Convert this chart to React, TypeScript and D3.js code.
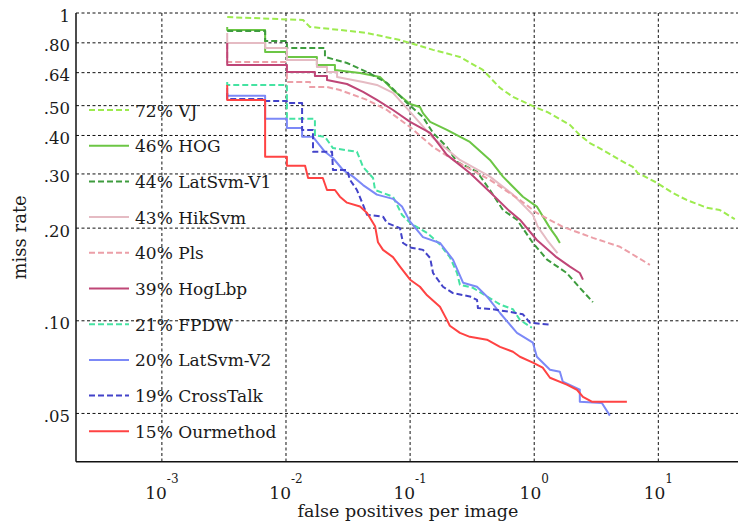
import React from "react";
import * as d3 from "d3";

const W = 738;
const H = 523;

// axis ticks
const yTicks = [1, 0.8, 0.64, 0.5, 0.4, 0.3, 0.2, 0.1, 0.05];
const yTickLabels = ["1", ".80", ".64", ".50", ".40", ".30", ".20", ".10", ".05"];
const xTickExps = [-3, -2, -1, 0, 1];

// legend
const legendLabels = [
  "72% VJ",
  "46% HOG",
  "44% LatSvm-V1",
  "43% HikSvm",
  "40% Pls",
  "39% HogLbp",
  "21% FPDW",
  "20% LatSvm-V2",
  "19% CrossTalk",
  "15% Ourmethod",
];

// series: [false positives per image, miss rate]
const vj: [number, number][] = [
  [0.00336, 0.97], [0.01374, 0.949], [0.0156, 0.901], [0.0272, 0.881], [0.045, 0.861],
  [0.0829, 0.817], [0.1137, 0.787], [0.153, 0.759], [0.252, 0.72], [0.386, 0.653],
  [0.53, 0.571], [0.674, 0.534], [1.01, 0.495], [1.27, 0.477], [1.94, 0.433],
  [2.33, 0.401], [2.81, 0.378], [3.57, 0.359], [4.9, 0.333], [6.23, 0.316],
  [6.84, 0.302], [9.72, 0.281], [13.1, 0.26], [16.9, 0.247], [24.6, 0.233],
  [31.3, 0.229], [41.3, 0.214],
];
const hog: [number, number][] = [
  [0.00336, 0.9], [0.00336, 0.881], [0.00679, 0.881], [0.00679, 0.747], [0.01017, 0.747],
  [0.01017, 0.72], [0.01774, 0.72], [0.01774, 0.678], [0.0248, 0.678], [0.0248, 0.653],
  [0.0395, 0.638], [0.0572, 0.62], [0.0728, 0.562], [0.1, 0.506], [0.12, 0.495],
  [0.127, 0.473], [0.145, 0.443], [0.198, 0.417], [0.303, 0.381], [0.44, 0.333],
  [0.56, 0.294], [0.811, 0.253], [1.05, 0.235], [1.34, 0.2], [1.51, 0.187], [1.61, 0.179],
];
const latSvmV1: [number, number][] = [
  [0.00336, 0.874], [0.00679, 0.874], [0.00679, 0.811], [0.01017, 0.811], [0.01017, 0.77],
  [0.0206, 0.77], [0.0206, 0.72], [0.031, 0.688], [0.045, 0.643], [0.0651, 0.593],
  [0.0945, 0.51], [0.127, 0.459], [0.153, 0.408], [0.198, 0.367], [0.239, 0.328],
  [0.346, 0.305], [0.44, 0.266], [0.56, 0.229], [0.726, 0.213], [0.976, 0.179],
  [1.27, 0.158], [1.83, 0.143], [2.33, 0.128], [2.97, 0.115],
];
const hikSvm: [number, number][] = [
  [0.00336, 0.861], [0.00336, 0.799], [0.00679, 0.799], [0.00679, 0.77], [0.01017, 0.77],
  [0.01017, 0.704], [0.01774, 0.704], [0.01774, 0.668], [0.0214, 0.668], [0.0214, 0.643],
  [0.0258, 0.643], [0.0258, 0.62], [0.0418, 0.597], [0.054, 0.584], [0.0728, 0.55],
  [0.1, 0.477], [0.153, 0.393], [0.252, 0.333], [0.44, 0.294], [0.674, 0.257],
  [0.976, 0.221], [1.07, 0.202], [1.27, 0.183], [1.54, 0.166],
];
const pls: [number, number][] = [
  [0.00336, 0.799], [0.00336, 0.693], [0.01017, 0.693], [0.01017, 0.597], [0.0156, 0.597],
  [0.0156, 0.575], [0.0214, 0.575], [0.0272, 0.562], [0.045, 0.522], [0.0651, 0.484],
  [0.1, 0.426], [0.153, 0.367], [0.239, 0.328], [0.44, 0.287], [0.767, 0.247],
  [1.05, 0.224], [1.7, 0.202], [2.97, 0.186], [4.9, 0.174], [8.55, 0.152],
];
const hogLbp: [number, number][] = [
  [0.00336, 0.799], [0.00336, 0.678], [0.01017, 0.678], [0.01017, 0.643], [0.0171, 0.643],
  [0.0171, 0.624], [0.0214, 0.624], [0.0214, 0.606], [0.031, 0.588], [0.0418, 0.554],
  [0.054, 0.522], [0.0728, 0.484], [0.1, 0.443], [0.145, 0.408], [0.198, 0.346],
  [0.303, 0.302], [0.44, 0.262], [0.626, 0.228], [0.767, 0.213], [1.05, 0.183],
  [1.51, 0.161], [1.94, 0.15], [2.33, 0.143], [2.47, 0.136],
];
const fpdw: [number, number][] = [
  [0.00336, 0.597], [0.00336, 0.584], [0.01017, 0.584], [0.01017, 0.453], [0.0171, 0.453],
  [0.0171, 0.401], [0.0206, 0.396], [0.0239, 0.364], [0.0373, 0.354], [0.0418, 0.316],
  [0.0503, 0.291], [0.0522, 0.266], [0.0728, 0.253], [0.086, 0.221], [0.1, 0.208],
  [0.137, 0.193], [0.174, 0.177], [0.209, 0.161], [0.239, 0.143], [0.252, 0.131],
  [0.321, 0.128], [0.416, 0.12], [0.53, 0.113], [0.674, 0.109], [0.767, 0.1007], [0.958, 0.0949],
];
const latSvmV2: [number, number][] = [
  [0.00336, 0.571], [0.00336, 0.538], [0.00679, 0.538], [0.00679, 0.453], [0.01017, 0.453],
  [0.01017, 0.423], [0.01348, 0.423], [0.01348, 0.396], [0.0165, 0.396], [0.0206, 0.354],
  [0.0239, 0.338], [0.0288, 0.309], [0.0347, 0.294], [0.0418, 0.276], [0.054, 0.257],
  [0.0728, 0.249], [0.086, 0.235], [0.1, 0.21], [0.127, 0.187], [0.174, 0.179],
  [0.2215, 0.158], [0.267, 0.133], [0.346, 0.129], [0.416, 0.12], [0.53, 0.106],
  [0.726, 0.0914], [0.976, 0.0849], [1.05, 0.0764], [1.34, 0.0693], [1.61, 0.0683],
  [1.7, 0.0634], [2.33, 0.0597], [2.33, 0.0546], [3.51, 0.0541], [4.07, 0.0492],
];
const crossTalk: [number, number][] = [
  [0.00336, 0.55], [0.00336, 0.526], [0.00679, 0.526], [0.00679, 0.518], [0.01017, 0.518],
  [0.01017, 0.51], [0.01348, 0.51], [0.01348, 0.417], [0.0165, 0.417], [0.0165, 0.354],
  [0.0235, 0.354], [0.0239, 0.309], [0.031, 0.309], [0.0328, 0.287], [0.0373, 0.266],
  [0.0418, 0.238], [0.045, 0.221], [0.0605, 0.218], [0.0651, 0.208], [0.0829, 0.2],
  [0.0877, 0.179], [0.1, 0.173], [0.127, 0.17], [0.145, 0.16], [0.153, 0.143],
  [0.184, 0.129], [0.2215, 0.123], [0.303, 0.12], [0.346, 0.117], [0.352, 0.11],
  [0.465, 0.109], [0.626, 0.107], [0.811, 0.105], [0.923, 0.0986], [1.38, 0.097],
];
const ourMethod: [number, number][] = [
  [0.00336, 0.584], [0.00336, 0.522], [0.00679, 0.522], [0.00679, 0.341], [0.01017, 0.341],
  [0.01017, 0.319], [0.01425, 0.319], [0.01507, 0.291], [0.0198, 0.291], [0.0214, 0.266],
  [0.0248, 0.266], [0.0272, 0.253], [0.031, 0.242], [0.0395, 0.235], [0.045, 0.224],
  [0.0522, 0.203], [0.0551, 0.18], [0.0605, 0.17], [0.0728, 0.161], [0.0829, 0.15],
  [0.1, 0.136], [0.12, 0.129], [0.137, 0.121], [0.174, 0.111], [0.198, 0.1007],
  [0.209, 0.0964], [0.252, 0.0914], [0.303, 0.0887], [0.416, 0.0868], [0.53, 0.0823],
  [0.674, 0.0793], [0.767, 0.0764], [0.976, 0.0731], [1.17, 0.0704], [1.34, 0.0653],
  [1.83, 0.062], [2.21, 0.0597], [2.47, 0.0566], [2.91, 0.0546], [5.58, 0.0546],
];

const seriesData = [vj, hog, latSvmV1, hikSvm, pls, hogLbp, fpdw, latSvmV2, crossTalk, ourMethod];
const seriesColors = [
  "#9DEB4F", "#6CC645", "#3E9C3E", "#E5BBC3", "#EC9FA8",
  "#BF4677", "#45E3A2", "#7C89F7", "#4343C9", "#FF4343",
];
const seriesDashed = [true, false, true, false, true, false, true, false, true, false];

export default function App() {
  const left = 76;
  const right = 738;
  const top = 13;
  const bottom = 461.7;

  const x = d3.scaleLog().domain([Math.pow(10, -3.692), Math.pow(10, 1.642)]).range([left, right]);
  const y = d3.scaleLog().domain([0.03485, 1]).range([bottom, top]);

  const line = d3
    .line<[number, number]>()
    .x((d) => x(d[0]))
    .y((d) => y(d[1]));

  const font = "'DejaVu Serif', serif";
  const textColor = "#1a1a1a";
  const gridDash = "3,2.5";

  const legendX0 = 89;
  const legendX1 = 129;
  const legendTextX = 135;
  const legendY0 = 110;
  const legendStep = 35.7;

  return (
    <svg
      width={W}
      height={H}
      style={{ position: "absolute", left: 0, top: 0, background: "#fff" }}
      fontFamily={font}
    >
      <rect x={0} y={0} width={W} height={H} fill="#fff" />
      <defs>
        <clipPath id="plotClip">
          <rect x={left} y={top - 2} width={right - left} height={bottom - top + 2} />
        </clipPath>
      </defs>

      {/* horizontal grid */}
      {yTicks.map((t) => (
        <line
          key={"hg" + t}
          x1={left}
          x2={right}
          y1={y(t)}
          y2={y(t)}
          stroke="#111"
          strokeWidth={1}
          strokeDasharray={gridDash}
        />
      ))}
      {/* vertical grid */}
      {xTickExps.map((e) => (
        <line
          key={"vg" + e}
          x1={x(Math.pow(10, e))}
          x2={x(Math.pow(10, e))}
          y1={top}
          y2={bottom}
          stroke="#111"
          strokeWidth={1}
          strokeDasharray={gridDash}
        />
      ))}

      {/* axes */}
      <line x1={left} x2={left} y1={top} y2={bottom} stroke="#111" strokeWidth={1.5} />
      <line x1={left} x2={right} y1={bottom} y2={bottom} stroke="#111" strokeWidth={1.5} />

      {/* y tick labels */}
      {yTicks.map((t, i) => (
        <text
          key={"yl" + t}
          x={70}
          y={y(t) + 8.5}
          textAnchor="end"
          fontSize={16.5}
          fill={textColor}
        >
          {yTickLabels[i]}
        </text>
      ))}

      {/* x tick labels */}
      {xTickExps.map((e) => (
        <text
          key={"xl" + e}
          x={x(Math.pow(10, e))}
          y={498.5}
          textAnchor="middle"
          fontSize={17}
          fill={textColor}
        >
          <tspan>10</tspan>
          <tspan dy={-16} fontSize={12}>
            {String(e)}
          </tspan>
        </text>
      ))}

      {/* axis titles */}
      <text x={408} y={517} textAnchor="middle" fontSize={17.5} fill={textColor}>
        false positives per image
      </text>
      <text
        transform={`translate(26, ${(top + bottom) / 2}) rotate(-90)`}
        textAnchor="middle"
        fontSize={18}
        fill={textColor}
      >
        miss rate
      </text>

      {/* curves */}
      <g clipPath="url(#plotClip)">
        {seriesData.map((s, i) => (
          <path
            key={"s" + i}
            d={line(s) || ""}
            fill="none"
            stroke={seriesColors[i]}
            strokeWidth={2}
            strokeDasharray={seriesDashed[i] ? "6,3" : undefined}
            strokeLinejoin="round"
          />
        ))}
      </g>

      {/* legend */}
      {legendLabels.map((lab, i) => {
        const ly = legendY0 + i * legendStep;
        return (
          <g key={"lg" + i}>
            <line
              x1={legendX0}
              x2={legendX1}
              y1={ly}
              y2={ly}
              stroke={seriesColors[i]}
              strokeWidth={2}
              strokeDasharray={seriesDashed[i] ? "6,3" : undefined}
            />
            <text x={legendTextX} y={ly + 6.5} fontSize={17} fill={textColor}>
              {lab}
            </text>
          </g>
        );
      })}
    </svg>
  );
}
